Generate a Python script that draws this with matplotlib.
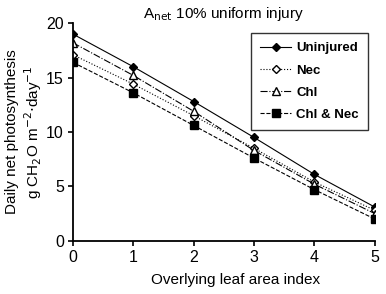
import matplotlib
matplotlib.use('Agg')
import matplotlib.pyplot as plt

lai = [0, 1, 2, 3, 4, 5]
uninjured = [19.0, 16.0, 12.8, 9.5, 6.1, 3.1]
nec = [17.1, 14.4, 11.5, 8.5, 5.4, 2.8]
chl = [18.2, 15.2, 11.9, 8.3, 5.2, 2.5]
chl_nec = [16.4, 13.6, 10.6, 7.6, 4.7, 2.0]

plt.rcParams['font.family'] = ['Liberation Sans', 'DejaVu Sans']

fig = plt.figure(figsize=(3.86, 2.94), dpi=100)
ax = fig.add_axes([0.189, 0.181, 0.782, 0.74])

lw = 0.8
ax.plot(lai, uninjured, '-', color='black', lw=lw, marker='D', ms=4.5, mfc='black', label='Uninjured')
ax.plot(lai, nec, ':', color='black', lw=lw, marker='D', ms=4.5, mfc='white', label='Nec')
ax.plot(lai, chl, '-.', color='black', lw=lw, marker='^', ms=5.5, mfc='white', label='Chl')
ax.plot(lai, chl_nec, '--', color='black', lw=lw, marker='s', ms=5.5, mfc='black', label='Chl & Nec')

ax.set_xlim(0, 5)
ax.set_ylim(0, 20)
ax.set_xticks(range(0, 6))
ax.set_yticks([0, 5, 10, 15, 20])
ax.spines['top'].set_visible(False)
ax.spines['right'].set_visible(False)
ax.spines['left'].set_linewidth(1.3)
ax.spines['bottom'].set_linewidth(1.3)
ax.tick_params(labelsize=11.5, width=1.2, length=3.5, pad=3)

ax.set_xlabel('Overlying leaf area index', fontsize=11, labelpad=3)
ax.xaxis.set_label_coords(0.54, -0.15)
ax.set_ylabel('Daily net photosynthesis\ng CH$_2$O m$^{-2}$$\\cdot$day$^{-1}$', fontsize=11, labelpad=1.5)
ax.set_title('A$_{\\mathrm{net}}$ 10% uniform injury', fontsize=11, pad=4)

leg = ax.legend(loc='upper right', bbox_to_anchor=(0.977, 0.955), frameon=True, fancybox=False,
                edgecolor='black', prop={'weight': 'bold', 'size': 9.5}, handlelength=2.3,
                handletextpad=0.4, labelspacing=0.75, borderpad=0.7, borderaxespad=0)
leg.get_frame().set_linewidth(1.0)

fig.savefig('out.png', dpi=100)
